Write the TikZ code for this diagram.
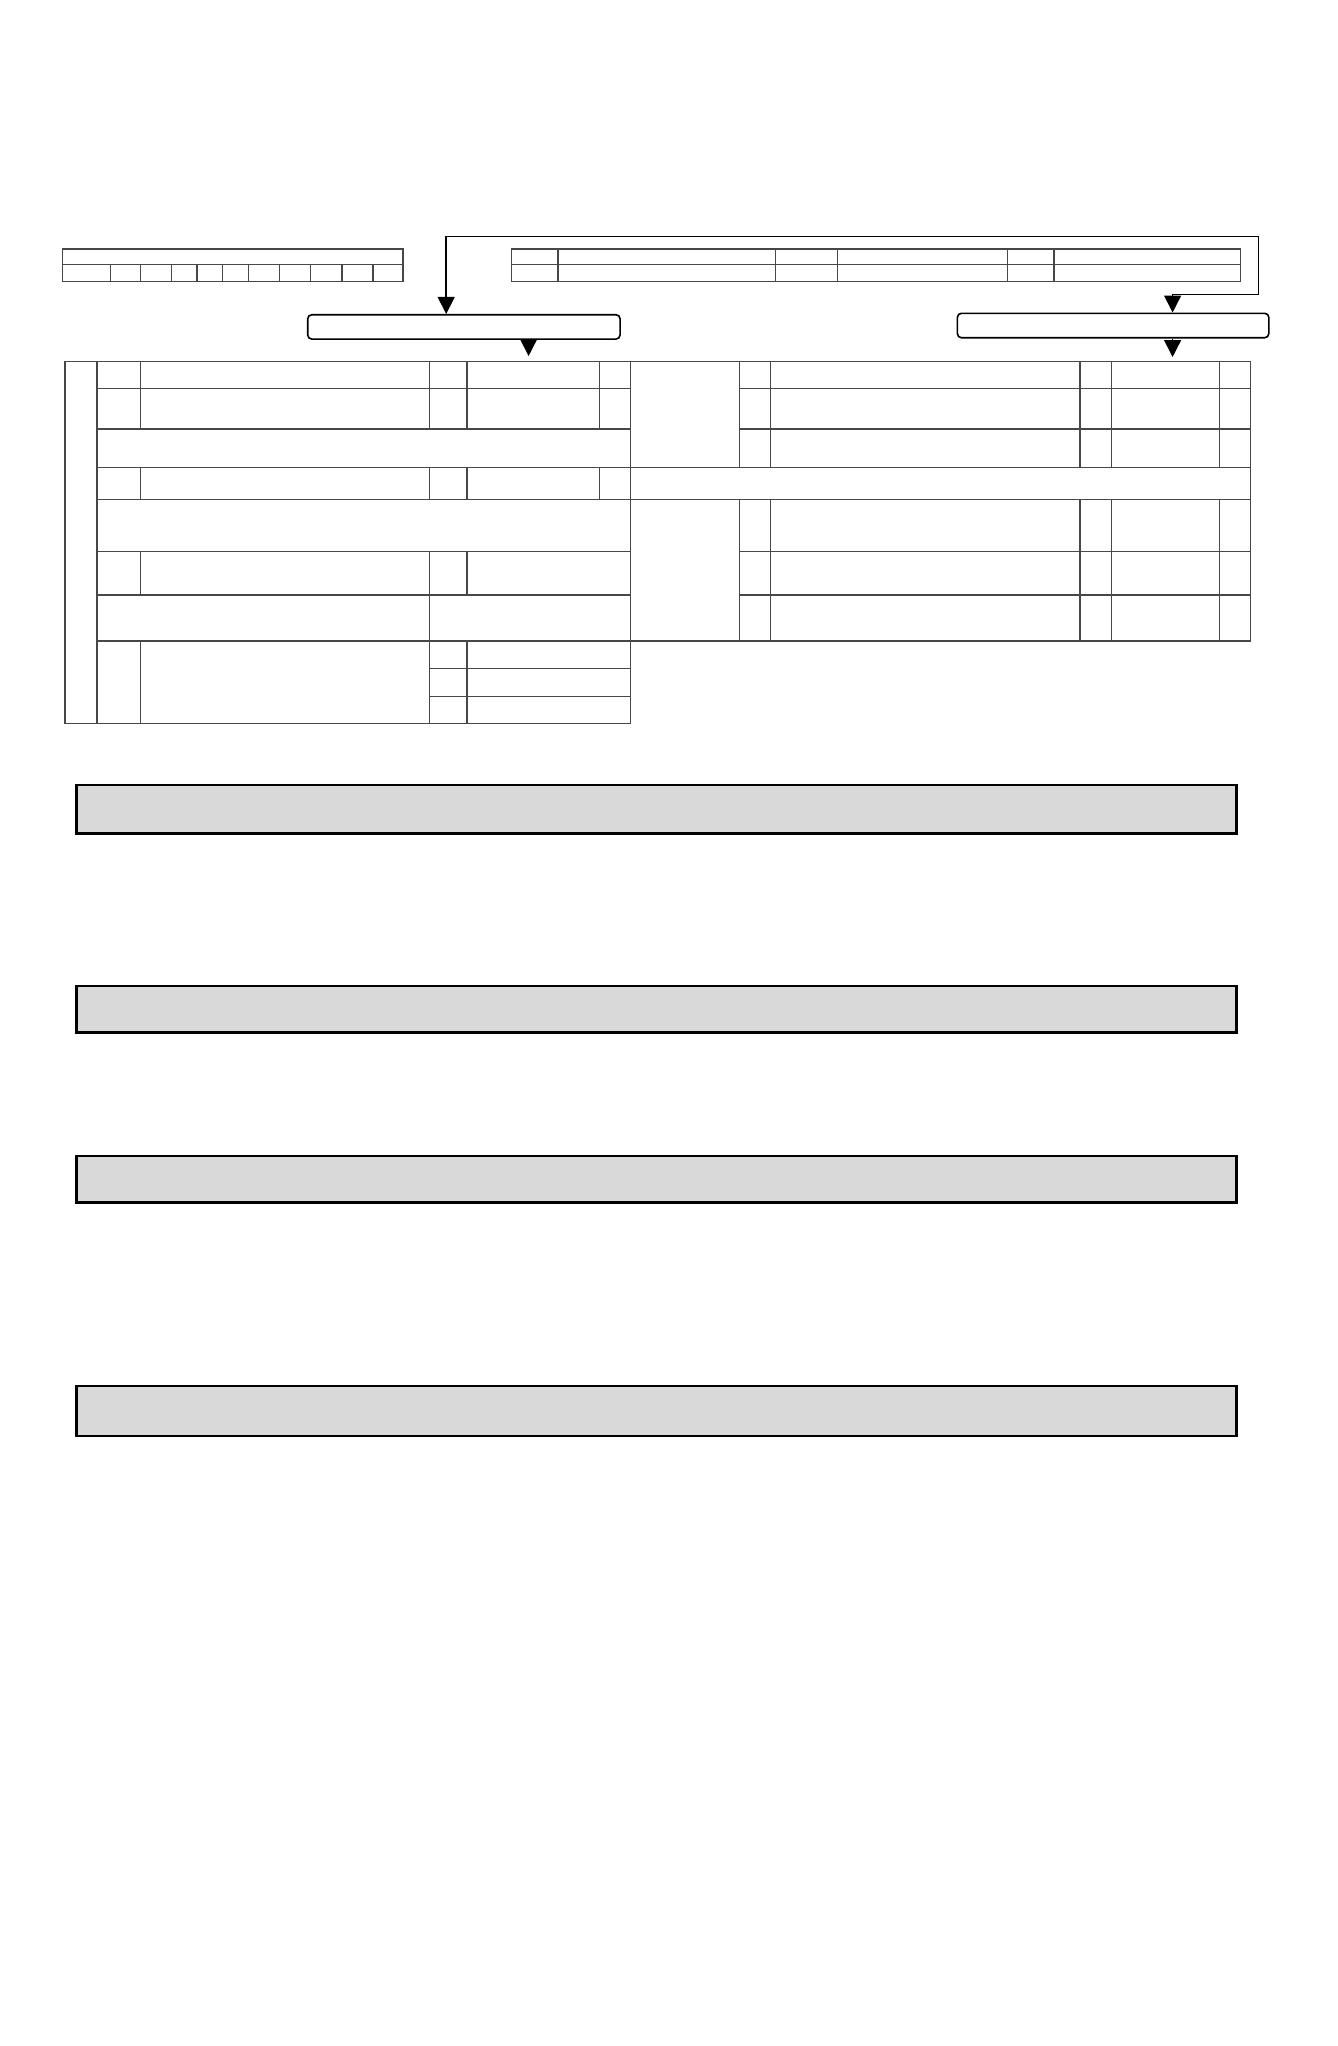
\documentclass[tikz,border=0pt]{standalone}
\usetikzlibrary{arrows.meta}
\definecolor{barfill}{HTML}{D9D9D9}

\begin{document}
\begin{tikzpicture}[x=1pt,y=-1pt,
    grid/.style={draw=black!72,line width=1.3pt},
    tag/.style={draw,line width=1.6pt,rounded corners=4pt,inner sep=0pt},
    bar/.style={draw,line width=2.6pt,fill=barfill},
    link/.style={draw=black,line width=1.5pt},
    >={Triangle[length=17pt,width=17pt]}]
  \useasboundingbox (0,0) rectangle (1338,2046);
  % register strips at the top
  \draw[grid] (62.8,249) rectangle (403,281.3) (62.8,264.7) -- (403,264.7);
  \foreach \x in {110.7,140.2,171.4,197,222.6,248.3,279.5,310.7,341.9,373.1}
    \draw[grid] (\x,264.7) -- (\x,281.3);
  \draw[grid] (511.5,249) rectangle (1240.4,281.3) (511.5,264.7) -- (1240.4,264.7);
  \foreach \x in {558.1,775.2,837.5,1007.4,1054}
    \draw[grid] (\x,249) -- (\x,281.3);
  % the two boxes and the loop between them
  \node[tag,minimum width=312.3pt,minimum height=24.3pt] (lbox) at (463.9,326.9) {};
  \node[tag,minimum width=311.4pt,minimum height=24.4pt] (rbox) at (1113.1,325.5) {};
  \coordinate (loopR) at (1258.7,236.7);
  \coordinate (loopB) at (1258.7,294.7);
  \draw[link,<->] ([xshift=-17.7pt]lbox.north) |- (loopR) -- (loopB) -| ([xshift=59.5pt]rbox.north);
  \coordinate (ltip) at (528.6,356);
  \coordinate (rtip) at (1172.6,357);
  \draw[link,->] ([xshift=64.7pt]lbox.south) -- (ltip);
  \draw[link,->] ([xshift=59.5pt]rbox.south) -- (rtip);
  % main table, left block
  \draw[grid] (65,361.7) rectangle (97,723.3);
  \foreach \ya/\yb in {361.7/388.7,388.7/429,467.7/499.3}
    \foreach \xa/\xb in {97/140.2,140.2/429.5,429.5/467,467/599.6,599.6/630.3}
      \draw[grid] (\xa,\ya) rectangle (\xb,\yb);
  \draw[grid] (97,429) rectangle (630.3,467.7);
  \draw[grid] (97,499.3) rectangle (630.3,551.3);
  \foreach \xa/\xb in {97/140.2,140.2/429.5,429.5/467,467/630.3}
    \draw[grid] (\xa,551.3) rectangle (\xb,595);
  \draw[grid] (97,595) rectangle (429.5,641) (429.5,595) rectangle (630.3,641);
  \draw[grid] (97,641) rectangle (140.2,723.3) (140.2,641) rectangle (429.5,723.3);
  \foreach \ya/\yb in {641/668.3,668.3/696.3,696.3/723.3}
    \draw[grid] (429.5,\ya) rectangle (467,\yb) (467,\ya) rectangle (630.3,\yb);
  % main table, right block
  \draw[grid] (630.3,361.7) rectangle (739.5,467.7);
  \draw[grid] (630.3,467.7) rectangle (1250.5,499.3);
  \draw[grid] (630.3,499.3) rectangle (739.5,641);
  \foreach \ya/\yb in {361.7/388.7,388.7/429,429/467.7,499.3/551.3,551.3/595,595/641}
    \foreach \xa/\xb in {739.5/770.2,770.2/1080,1080/1111.3,1111.3/1219.4,1219.4/1250.5}
      \draw[grid] (\xa,\ya) rectangle (\xb,\yb);
  % grey bars
  \foreach \ya/\yb in {785/833.3,986/1032.7,1156/1202.7,1386/1436}
    \draw[bar] (76.7,\ya) rectangle (1236.3,\yb);
\end{tikzpicture}
\end{document}
